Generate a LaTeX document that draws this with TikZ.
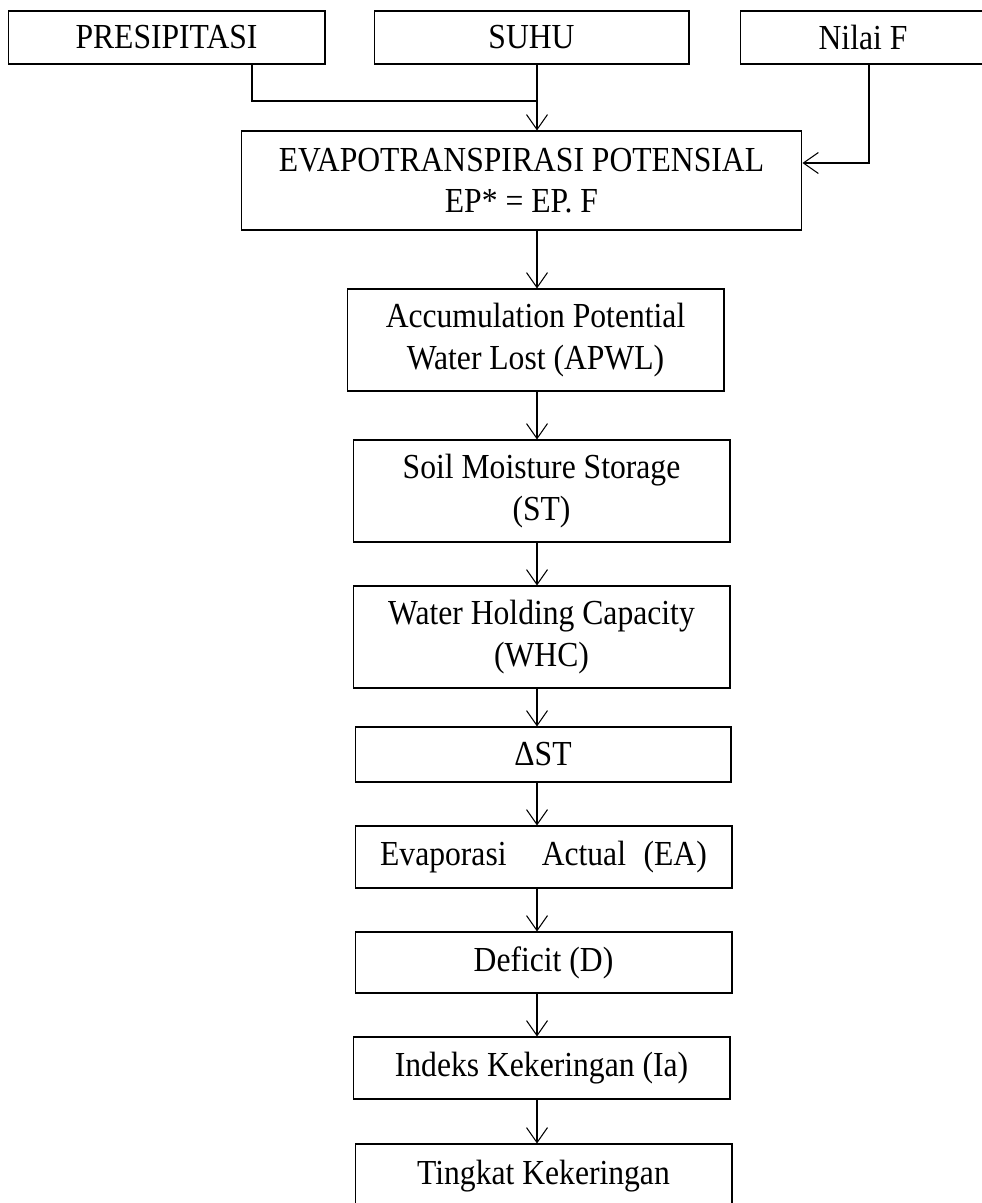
\documentclass[tikz,border=0pt]{standalone}
\usepackage{fontspec}
\setmainfont{Liberation Serif}[FakeStretch=0.9]
\usetikzlibrary{arrows.meta}

\tikzset{
	box/.style={draw, line width=0.6pt, inner sep=0pt, align=center,
		minimum width=7.54cm, font=\fontsize{20}{23.5}\selectfont},
	flow/.style={line width=0.6pt, -{Straight Barb[length=3mm,width=4.2mm]}},
}

\begin{document}
\begin{tikzpicture}[x=0.02cm,y=-0.02cm]
	\pgfmathsetmacro{\spine}{537}	%x of the main down line
	\pgfmathsetmacro{\join}{101}	%y where the PRESIPITASI line turns
	\pgfmathsetmacro{\drop}{252}	%x of the PRESIPITASI line
	\pgfmathsetmacro{\side}{869}	%x of the Nilai F line
	\pgfmathsetmacro{\turn}{163}	%y where the Nilai F line turns

	\useasboundingbox (0,0) rectangle (982,1203);

	%inputs
	\node[box, minimum width=6.34cm, minimum height=1.06cm] (presi) at (166.5,37.5) {PRESIPITASI};
	\node[box, minimum width=6.30cm, minimum height=1.06cm] (suhu) at (531.5,37.5) {SUHU};
	\node[box, minimum width=4.92cm, minimum height=1.06cm] (nilai) at (863,37.5) {Nilai F};

	%chain
	\node[box, minimum width=11.22cm, minimum height=1.98cm] (evapo) at (521.5,180.5) {EVAPOTRANSPIRASI POTENSIAL\\EP* = EP. F};
	\node[box, minimum height=2.04cm] (apwl) at (535.5,340) {Accumulation Potential\\Water Lost (APWL)};
	\node[box, minimum height=2.04cm] (st) at (541.5,491) {Soil Moisture Storage\\(ST)};
	\node[box, minimum height=2.04cm] (whc) at (541.5,637) {Water Holding Capacity\\(WHC)};
	\node[box, minimum width=7.52cm, minimum height=1.10cm] (dst) at (543,754.5) {ΔST};
	\node[box, minimum height=1.24cm] (ea) at (543.5,857) {Evaporasi\quad Actual\enspace(EA)};
	\node[box, minimum height=1.22cm] (def) at (543.5,962.5) {Deficit (D)};
	\node[box, minimum height=1.24cm] (idx) at (541.5,1068) {Indeks Kekeringan (Ia)};
	\node[box, minimum height=1.28cm] (tkt) at (543.5,1176) {Tingkat Kekeringan};

	\coordinate (p1) at (\drop,\join);
	\coordinate (s1) at (\spine,\join);
	\coordinate (n1) at (\side,\turn);

	\draw[line width=0.6pt] (p1 |- presi.south) -- (p1) -- (s1);
	\draw[flow] (s1 |- suhu.south) -- (s1 |- evapo.north);
	\draw[flow] (n1 |- nilai.south) -- (n1) -- (n1 -| evapo.east);

	\foreach \a/\b in {evapo/apwl, apwl/st, st/whc, whc/dst, dst/ea, ea/def, def/idx, idx/tkt}
		\draw[flow] (s1 |- \a.south) -- (s1 |- \b.north);

\end{tikzpicture}
\end{document}
